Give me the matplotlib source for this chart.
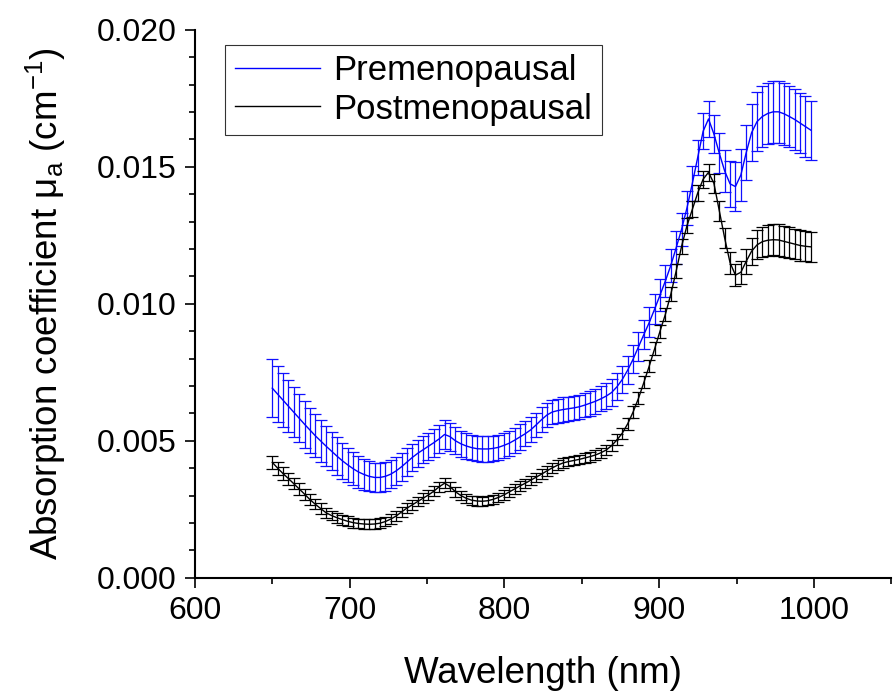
import numpy as np
import matplotlib
matplotlib.use("Agg")
import matplotlib.pyplot as plt
from matplotlib.ticker import MultipleLocator

plt.rcParams['font.family'] = ['Liberation Sans', 'DejaVu Sans']
plt.rcParams['mathtext.default'] = 'regular'

# wavelength grid (nm), 101 samples between 650 and 998
wavelength = np.linspace(650, 998, 101)

pre_mean = [
    0.00692, 0.00670, 0.00648, 0.00626, 0.00604, 0.00582, 0.00560, 0.00539, 0.00518, 0.00499,
    0.00480, 0.00462, 0.00444, 0.00427, 0.00412, 0.00398, 0.00386, 0.00377, 0.00370, 0.00366,
    0.00366, 0.00370, 0.00378, 0.00390, 0.00405, 0.00422, 0.00439, 0.00454, 0.00467, 0.00480,
    0.00493, 0.00507, 0.00523, 0.00515, 0.00500, 0.00489, 0.00481, 0.00475, 0.00471, 0.00470,
    0.00470, 0.00472, 0.00476, 0.00483, 0.00491, 0.00502, 0.00514, 0.00526, 0.00540, 0.00558,
    0.00577, 0.00594, 0.00605, 0.00610, 0.00614, 0.00617, 0.00620, 0.00624, 0.00630, 0.00637,
    0.00644, 0.00653, 0.00663, 0.00676, 0.00697, 0.00724, 0.00758, 0.00798, 0.00843, 0.00888,
    0.00932, 0.00981, 0.01032, 0.01084, 0.01140, 0.01205, 0.01272, 0.01350, 0.01440, 0.01535,
    0.01630, 0.01675, 0.01620, 0.01550, 0.01485, 0.01438, 0.01428, 0.01470, 0.01552, 0.01625,
    0.01665, 0.01684, 0.01695, 0.01701, 0.01701, 0.01694, 0.01684, 0.01673, 0.01660, 0.01647,
    0.01634,
]

pre_err = [
    0.00105, 0.00102, 0.00098, 0.00095, 0.00092, 0.00088, 0.00085, 0.00082, 0.00079, 0.00076,
    0.00073, 0.00070, 0.00068, 0.00066, 0.00063, 0.00061, 0.00059, 0.00057, 0.00055, 0.00054,
    0.00053, 0.00052, 0.00052, 0.00051, 0.00051, 0.00050, 0.00050, 0.00050, 0.00050, 0.00050,
    0.00051, 0.00052, 0.00052, 0.00051, 0.00049, 0.00048, 0.00047, 0.00047, 0.00046, 0.00046,
    0.00046, 0.00046, 0.00046, 0.00046, 0.00046, 0.00046, 0.00046, 0.00045, 0.00045, 0.00045,
    0.00045, 0.00045, 0.00044, 0.00044, 0.00044, 0.00044, 0.00044, 0.00044, 0.00044, 0.00045,
    0.00045, 0.00046, 0.00047, 0.00048, 0.00049, 0.00050, 0.00051, 0.00052, 0.00053, 0.00054,
    0.00055, 0.00056, 0.00057, 0.00058, 0.00059, 0.00060, 0.00061, 0.00062, 0.00063, 0.00064,
    0.00065, 0.00066, 0.00068, 0.00072, 0.00078, 0.00085, 0.00090, 0.00095, 0.00100, 0.00105,
    0.00108, 0.00110, 0.00112, 0.00113, 0.00114, 0.00114, 0.00113, 0.00112, 0.00111, 0.00110,
    0.00108,
]

post_mean = [
    0.00421, 0.00400, 0.00380, 0.00362, 0.00343, 0.00324, 0.00305, 0.00285, 0.00268, 0.00252,
    0.00237, 0.00227, 0.00219, 0.00212, 0.00206, 0.00201, 0.00198, 0.00196, 0.00195, 0.00196,
    0.00199, 0.00205, 0.00214, 0.00225, 0.00240, 0.00254, 0.00266, 0.00278, 0.00290, 0.00302,
    0.00316, 0.00332, 0.00345, 0.00333, 0.00314, 0.00300, 0.00290, 0.00283, 0.00280, 0.00279,
    0.00281, 0.00286, 0.00293, 0.00302, 0.00313, 0.00324, 0.00335, 0.00345, 0.00356, 0.00367,
    0.00378, 0.00390, 0.00401, 0.00411, 0.00419, 0.00424, 0.00428, 0.00432, 0.00437, 0.00442,
    0.00448, 0.00456, 0.00466, 0.00482, 0.00503, 0.00528, 0.00562, 0.00605, 0.00655, 0.00713,
    0.00773, 0.00836, 0.00900, 0.00962, 0.01035, 0.01120, 0.01210, 0.01285, 0.01345, 0.01405,
    0.01455, 0.01480, 0.01440, 0.01340, 0.01240, 0.01150, 0.01105, 0.01115, 0.01155, 0.01192,
    0.01215, 0.01227, 0.01232, 0.01234, 0.01233, 0.01228, 0.01223, 0.01218, 0.01213, 0.01210,
    0.01208,
]

post_err = [
    0.00025, 0.00024, 0.00023, 0.00022, 0.00021, 0.00021, 0.00020, 0.00020, 0.00019, 0.00019,
    0.00018, 0.00018, 0.00018, 0.00018, 0.00018, 0.00018, 0.00018, 0.00018, 0.00018, 0.00018,
    0.00018, 0.00018, 0.00018, 0.00018, 0.00018, 0.00018, 0.00018, 0.00018, 0.00018, 0.00018,
    0.00018, 0.00018, 0.00019, 0.00018, 0.00018, 0.00018, 0.00017, 0.00017, 0.00017, 0.00017,
    0.00017, 0.00017, 0.00017, 0.00017, 0.00017, 0.00017, 0.00017, 0.00017, 0.00017, 0.00017,
    0.00017, 0.00017, 0.00017, 0.00017, 0.00017, 0.00017, 0.00017, 0.00017, 0.00017, 0.00018,
    0.00018, 0.00018, 0.00019, 0.00019, 0.00020, 0.00020, 0.00021, 0.00021, 0.00022, 0.00022,
    0.00023, 0.00023, 0.00024, 0.00024, 0.00025, 0.00026, 0.00027, 0.00028, 0.00029, 0.00030,
    0.00031, 0.00032, 0.00034, 0.00036, 0.00038, 0.00040, 0.00041, 0.00043, 0.00046, 0.00050,
    0.00053, 0.00055, 0.00056, 0.00057, 0.00057, 0.00057, 0.00056, 0.00056, 0.00055, 0.00055,
    0.00055,
]

fig = plt.figure(figsize=(8.94, 6.96), dpi=100)
ax = fig.add_axes([0.218, 0.170, 0.779, 0.787])

ax.errorbar(wavelength, pre_mean, yerr=pre_err, fmt='none', ecolor='#1010ff',
            elinewidth=0.9, capsize=4, capthick=0.9)
ax.errorbar(wavelength, post_mean, yerr=post_err, fmt='none', ecolor='black',
            elinewidth=0.9, capsize=4, capthick=0.9)
ax.plot(wavelength, pre_mean, color='#0000ff', lw=1.0, label='Premenopausal')
ax.plot(wavelength, post_mean, color='black', lw=1.0, label='Postmenopausal')

ax.set_xlim(600, 1050)
ax.set_ylim(0, 0.020)
ax.xaxis.set_major_locator(MultipleLocator(100))
ax.xaxis.set_minor_locator(MultipleLocator(50))
ax.yaxis.set_major_locator(MultipleLocator(0.005))
ax.yaxis.set_minor_locator(MultipleLocator(0.001))
ax.yaxis.set_major_formatter(matplotlib.ticker.FormatStrFormatter('%.3f'))

for side in ['top', 'right']:
    ax.spines[side].set_visible(False)
for side in ['left', 'bottom']:
    ax.spines[side].set_linewidth(1.5)

ax.tick_params(which='major', direction='out', length=7.5, width=1.2, labelsize=23, pad=6)
ax.tick_params(which='minor', direction='out', length=4, width=1.2)

ax.set_xlabel('Wavelength (nm)', fontsize=26.5, labelpad=21)
ax.set_ylabel('Absorption coefficient μ$_a$ (cm$^{-1}$)', fontsize=26.5, labelpad=20)

leg = ax.legend(loc='upper left', bbox_to_anchor=(0.043, 0.973), fontsize=25,
                frameon=True, fancybox=False, handlelength=2.45, handletextpad=0.4,
                labelspacing=0.15, borderpad=0.28, borderaxespad=0)
leg.get_frame().set_edgecolor('black')
leg.get_frame().set_linewidth(0.8)

fig.savefig('out.png', dpi=100)
